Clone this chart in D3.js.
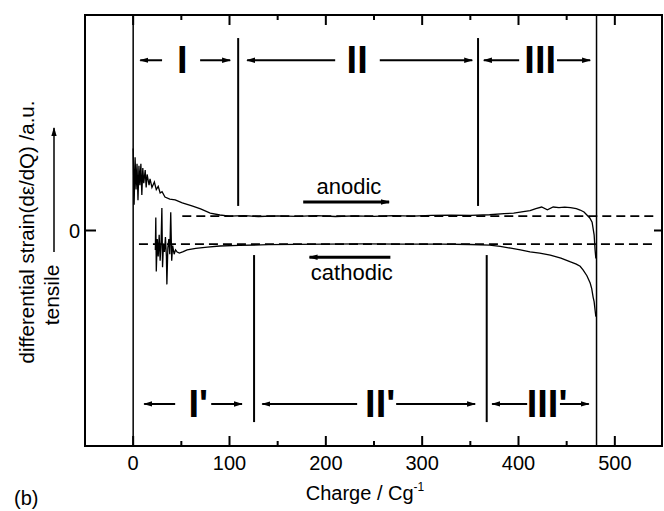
<!DOCTYPE html>
<html>
<head>
<meta charset="utf-8">
<script src="https://cdn.jsdelivr.net/npm/d3@7"></script>
<style>
  body { margin: 0; background: #fff; }
  text { font-family: "Liberation Sans", Arial, sans-serif; fill: #000; }
</style>
</head>
<body>
<div id="chart"></div>
<script>
// charge axis ticks
const xTicks = [0, 100, 200, 300, 400, 500];
const xMinorTicks = [-50, 50, 150, 250, 350, 450];
const yTicks = [0];

// anodic sweep (charge / Cg-1, strain a.u.)
const anodicQ = [0, 1, 2, 3, 4, 5, 6, 7, 8, 9, 10, 11, 12.5, 13.5, 14.5, 16.5, 17.5, 19.5, 22, 24, 26, 28, 30, 33, 38, 43.6, 51, 61, 70, 80, 90, 100, 115, 130, 150, 170, 190, 210, 230, 250, 270, 290, 310, 330, 350, 370, 385, 395, 405, 412, 418, 424, 430, 436, 442, 448, 454, 460, 464, 468, 471, 474, 476.4, 478.5, 479.5, 480.3];
const anodicStrain = [38, 12, 34, 19, 31, 14, 30, 21, 31, 16.5, 29, 22, 28, 20, 26, 21, 24, 20, 22.5, 19, 20.5, 17.4, 18, 15.5, 14.6, 14.2, 12.8, 11.4, 10, 8.1, 7.2, 6.7, 6.9, 6.5, 6.8, 6.6, 6.9, 6.5, 6.8, 6.6, 6.9, 6.7, 7.0, 7.1, 7.0, 7.3, 7.8, 8.1, 8.8, 9.2, 10.2, 10.9, 9.6, 10.9, 10.6, 10.8, 10.6, 10.1, 9.5, 8.6, 7.2, 5.8, 3.9, -2, -9, -13];

// cathodic sweep
const cathodicQ = [23, 23.5, 24, 25, 26, 27, 28, 29, 29.8, 30.5, 31.5, 32.5, 33.5, 34.5, 35, 36, 37, 38, 39, 40, 41, 42.5, 44, 45.7, 48, 52, 56, 65, 77, 90, 110, 140, 170, 200, 240, 280, 320, 350, 370, 381, 392, 402, 412, 422, 433, 444, 454, 460, 464, 467, 471, 474.4, 476, 477.5, 478.5, 479.5, 480.3];
const cathodicStrain = [-9, 6, -19, -4, -12, -2, -14, -5, 10.4, -17, -6, -10, -3, -12, -25, -8, -4, -11, 8.5, -14, -7, -11, -9, -10, -10.5, -9.8, -9, -8.3, -7.7, -7.2, -6.9, -6.6, -6.4, -6.3, -6.2, -6.3, -6.3, -6.5, -6.8, -7.4, -8.2, -9, -9.9, -10.5, -11.4, -12.8, -14.6, -15.6, -16.6, -18.3, -21, -24.4, -27, -31, -33, -37, -40];

// dashed reference levels
const dashLevels = [6.7, -6.3];
const dashStart = [51, 6];
const dashEnd = 540;

// full-height lines at start/end of cycle
const cycleLines = [0, 481];

// region boundaries
const upperBounds = [109, 358];
const lowerBounds = [125.5, 367];
const upperBoundY = [89.3, 11.4];
const lowerBoundY = [-11.4, -88.9];

// region labels and arrows
const upperLabels = ["I", "II", "III"];
const upperLabelQ = [51, 232.5, 422.5];
const upperArrowFrom = [30, 69.5, 209.7, 256, 400.7, 440];
const upperArrowTo = [7.3, 100.7, 118.3, 352, 364, 474.4];
const upperLevel = 79;

const lowerLabels = ["I'", "II'", "III'"];
const lowerLabelQ = [67.5, 256.4, 429.7];
const lowerArrowFrom = [43.6, 81, 232.5, 273, 409, 443];
const lowerArrowTo = [11.4, 113, 134, 355, 372.6, 473];
const lowerLevel = -80.5;

// sweep direction notes
const sweepNames = ["anodic", "cathodic"];
const sweepTextQ = [224, 227];
const sweepTextY = [16.9, -23];
const sweepArrowFrom = [176.5, 267];
const sweepArrowTo = [265.7, 183];
const sweepArrowY = [13.2, -12.4];

const width = 664, height = 511;
const margin = {top: 15, right: 1, bottom: 65, left: 85};

const svg = d3.select("#chart")
  .append("svg")
  .attr("width", width)
  .attr("height", height);

const x = d3.scaleLinear().domain([-50, 550]).range([margin.left, width - margin.right]);
const y = d3.scaleLinear().domain([-100, 100]).range([height - margin.bottom, margin.top]);

svg.append("defs")
  .append("marker")
  .attr("id", "head")
  .attr("viewBox", "0 0 10 6")
  .attr("refX", 9)
  .attr("refY", 3)
  .attr("markerWidth", 9)
  .attr("markerHeight", 6)
  .attr("markerUnits", "userSpaceOnUse")
  .attr("orient", "auto")
  .append("path")
  .attr("d", "M0,0 L10,3 L0,6 Z")
  .attr("fill", "#000");

// ticks, all pointing inwards
const allTicks = xTicks.map(d => [d, 10]).concat(xMinorTicks.map(d => [d, 5]));
const y0 = y.range()[0], y1 = y.range()[1];

svg.append("g")
  .selectAll("line")
  .data(allTicks)
  .join("line")
  .attr("x1", d => x(d[0])).attr("x2", d => x(d[0]))
  .attr("y1", y0).attr("y2", d => y0 - d[1])
  .attr("stroke", "#000").attr("stroke-width", 2);

svg.append("g")
  .selectAll("line")
  .data(allTicks)
  .join("line")
  .attr("x1", d => x(d[0])).attr("x2", d => x(d[0]))
  .attr("y1", y1).attr("y2", d => y1 + d[1])
  .attr("stroke", "#000").attr("stroke-width", 2);

svg.append("g")
  .selectAll("line")
  .data(yTicks)
  .join("line")
  .attr("x1", x(-50)).attr("x2", x(-50) + 11)
  .attr("y1", d => y(d)).attr("y2", d => y(d))
  .attr("stroke", "#000").attr("stroke-width", 2);

svg.append("g")
  .selectAll("line")
  .data(yTicks)
  .join("line")
  .attr("x1", x(550)).attr("x2", x(550) - 9)
  .attr("y1", d => y(d)).attr("y2", d => y(d))
  .attr("stroke", "#000").attr("stroke-width", 2);

svg.append("g")
  .selectAll("text")
  .data(xTicks)
  .join("text")
  .attr("x", d => x(d))
  .attr("y", y0 + 24)
  .attr("text-anchor", "middle")
  .style("font-size", "20px")
  .text(d => d);

svg.selectAll(".ylab")
  .data(yTicks)
  .join("text")
  .attr("x", x(-50) - 5)
  .attr("y", d => y(d) + 7)
  .attr("text-anchor", "end")
  .style("font-size", "20px")
  .text(d => d);

// frame
svg.append("rect")
  .attr("x", x(-50)).attr("y", y1)
  .attr("width", x(550) - x(-50) - 1)
  .attr("height", y0 - y1)
  .attr("fill", "none")
  .attr("stroke", "#000")
  .attr("stroke-width", 2);

svg.append("g")
  .selectAll("line")
  .data(cycleLines)
  .join("line")
  .attr("x1", d => x(d)).attr("x2", d => x(d))
  .attr("y1", y0).attr("y2", y1)
  .attr("stroke", "#000").attr("stroke-width", 1.5);

// dashed levels
svg.append("g")
  .selectAll("line")
  .data(dashLevels)
  .join("line")
  .attr("x1", (d, i) => x(dashStart[i])).attr("x2", x(dashEnd))
  .attr("y1", d => y(d)).attr("y2", d => y(d))
  .attr("stroke", "#000").attr("stroke-width", 1.8)
  .attr("stroke-dasharray", "9,5");

// region boundaries
svg.append("g")
  .selectAll("line")
  .data(upperBounds)
  .join("line")
  .attr("x1", d => x(d)).attr("x2", d => x(d))
  .attr("y1", y(upperBoundY[0])).attr("y2", y(upperBoundY[1]))
  .attr("stroke", "#000").attr("stroke-width", 2);

svg.append("g")
  .selectAll("line")
  .data(lowerBounds)
  .join("line")
  .attr("x1", d => x(d)).attr("x2", d => x(d))
  .attr("y1", y(lowerBoundY[0])).attr("y2", y(lowerBoundY[1]))
  .attr("stroke", "#000").attr("stroke-width", 2);

// curves
const line = d3.line().x(d => x(d[0])).y(d => y(d[1]));

svg.append("path")
  .datum(d3.zip(anodicQ, anodicStrain))
  .attr("d", line)
  .attr("fill", "none").attr("stroke", "#000").attr("stroke-width", 1.3);

svg.append("path")
  .datum(d3.zip(cathodicQ, cathodicStrain))
  .attr("d", line)
  .attr("fill", "none").attr("stroke", "#000").attr("stroke-width", 1.3);

// region arrows + numerals
const drawRegions = (labels, labelQ, from, to, level) => {
  svg.append("g")
    .selectAll("line")
    .data(from)
    .join("line")
    .attr("x1", d => x(d)).attr("x2", (d, i) => x(to[i]))
    .attr("y1", y(level)).attr("y2", y(level))
    .attr("stroke", "#000").attr("stroke-width", 2)
    .attr("marker-end", "url(#head)");

  svg.append("g")
    .selectAll("text")
    .data(labels)
    .join("text")
    .attr("x", (d, i) => x(labelQ[i]))
    .attr("y", y(level) + 13)
    .attr("text-anchor", "middle")
    .style("font-size", "38px")
    .style("font-weight", "bold")
    .text(String);
}

drawRegions(upperLabels, upperLabelQ, upperArrowFrom, upperArrowTo, upperLevel);
drawRegions(lowerLabels, lowerLabelQ, lowerArrowFrom, lowerArrowTo, lowerLevel);

// anodic / cathodic notes
svg.append("g")
  .selectAll("text")
  .data(sweepNames)
  .join("text")
  .attr("x", (d, i) => x(sweepTextQ[i]))
  .attr("y", (d, i) => y(sweepTextY[i]))
  .attr("text-anchor", "middle")
  .style("font-size", "22px")
  .text(String);

svg.append("g")
  .selectAll("line")
  .data(sweepArrowFrom)
  .join("line")
  .attr("x1", d => x(d)).attr("x2", (d, i) => x(sweepArrowTo[i]))
  .attr("y1", (d, i) => y(sweepArrowY[i])).attr("y2", (d, i) => y(sweepArrowY[i]))
  .attr("stroke", "#000").attr("stroke-width", 3)
  .attr("marker-end", "url(#head)");

// axis titles
const xTitle = svg.append("text")
  .attr("x", 365)
  .attr("y", 500)
  .attr("text-anchor", "middle")
  .style("font-size", "20px");
xTitle.append("tspan").text("Charge / Cg");
xTitle.append("tspan").attr("dy", -9).style("font-size", "12px").text("-1");

svg.append("text")
  .attr("transform", "translate(34,232) rotate(-90)")
  .attr("text-anchor", "middle")
  .style("font-size", "20.5px")
  .text("differential strain(dε/dQ) /a.u.");

svg.append("text")
  .attr("transform", "translate(59,295) rotate(-90)")
  .attr("text-anchor", "middle")
  .style("font-size", "21px")
  .text("tensile");

svg.append("line")
  .attr("x1", 54).attr("x2", 54)
  .attr("y1", 252).attr("y2", 128)
  .attr("stroke", "#000").attr("stroke-width", 1.5)
  .attr("marker-end", "url(#head)");

svg.append("text")
  .attr("x", 14)
  .attr("y", 505)
  .style("font-size", "20px")
  .text("(b)");
</script>
</body>
</html>
